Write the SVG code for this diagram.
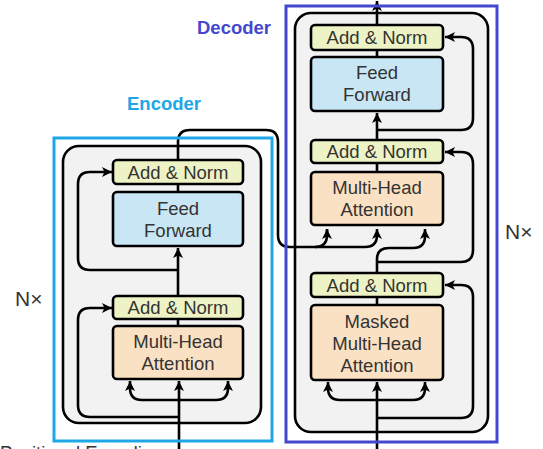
<svg xmlns="http://www.w3.org/2000/svg" width="543" height="449" viewBox="0 0 543 449">
<defs>
<marker id="arr" markerUnits="userSpaceOnUse" markerWidth="11" markerHeight="11" refX="10" refY="5" orient="auto">
<path d="M0,0 L10,5 L0,10 L2.5,5 z" fill="#000"/>
</marker>
<style>
.box{stroke:#000;stroke-width:2.6}
.an{fill:#eef3c6}
.ff{fill:#c9e6f4}
.mh{fill:#fbe1c3}
.stack{fill:#f2f2f2;stroke:#000;stroke-width:2.6}
.t{font-family:"Liberation Sans",Arial,sans-serif;font-size:18.5px;fill:#333;text-anchor:middle}
.lbl{font-family:"Liberation Sans",Arial,sans-serif;font-size:18.5px;font-weight:bold}
.nx{font-family:"Liberation Sans",Arial,sans-serif;font-size:21px;fill:#333}
.c{fill:none;stroke:#000;stroke-width:2.6}
.ca{fill:none;stroke:#000;stroke-width:2.6;marker-end:url(#arr)}
</style>
</defs>
<rect width="543" height="449" fill="#fff"/>

<text class="lbl" x="127" y="110" fill="#1ea7e6">Encoder</text>
<text class="lbl" x="197" y="34" fill="#4548cf">Decoder</text>
<text class="nx" x="15" y="306">N×</text>
<text class="nx" x="505" y="239">N×</text>
<text class="t" x="0" y="459" style="text-anchor:start">Positional Encoding</text>

<g id="encoder-stack">
<rect class="stack" x="63" y="146" width="198" height="277" rx="16"/>
</g>
<g id="decoder-stack">
<rect class="stack" x="295" y="13" width="193" height="419" rx="16"/>
</g>

<g id="enc-addnorm2"><rect class="box an" x="113" y="160" width="130" height="24" rx="4"/><text class="t" x="178" y="179">Add &amp; Norm</text></g>
<g id="enc-ff"><rect class="box ff" x="113" y="192" width="130" height="54" rx="4"/><text class="t" x="178" y="215">Feed</text><text class="t" x="178" y="237">Forward</text></g>
<g id="enc-addnorm1"><rect class="box an" x="113" y="296" width="130" height="23" rx="4"/><text class="t" x="178" y="314">Add &amp; Norm</text></g>
<g id="enc-mha"><rect class="box mh" x="113" y="326" width="130" height="53" rx="4"/><text class="t" x="178" y="348">Multi-Head</text><text class="t" x="178" y="370">Attention</text></g>

<g id="dec-addnorm3"><rect class="box an" x="311" y="25" width="132" height="25" rx="4"/><text class="t" x="377" y="44">Add &amp; Norm</text></g>
<g id="dec-ff"><rect class="box ff" x="311" y="57" width="132" height="54" rx="4"/><text class="t" x="377" y="79">Feed</text><text class="t" x="377" y="101">Forward</text></g>
<g id="dec-addnorm2"><rect class="box an" x="311" y="140" width="132" height="23" rx="4"/><text class="t" x="377" y="158">Add &amp; Norm</text></g>
<g id="dec-mha"><rect class="box mh" x="311" y="172" width="132" height="53" rx="4"/><text class="t" x="377" y="194">Multi-Head</text><text class="t" x="377" y="216">Attention</text></g>
<g id="dec-addnorm1"><rect class="box an" x="311" y="273" width="132" height="24" rx="4"/><text class="t" x="377" y="292">Add &amp; Norm</text></g>
<g id="dec-masked-mha"><rect class="box mh" x="311" y="305" width="132" height="75" rx="4"/><text class="t" x="377" y="328">Masked</text><text class="t" x="377" y="350">Multi-Head</text><text class="t" x="377" y="372">Attention</text></g>

<g id="connectors">
<!-- encoder -->
<path class="ca" d="M179,449 V381"/>
<path class="ca" d="M179,400 H142 Q130,400 130,388 V381"/>
<path class="ca" d="M179,400 H216 Q228,400 228,388 V381"/>
<path class="ca" d="M179,417 H90 Q78,417 78,405 V320 Q78,308 90,308 H112"/>
<path class="c" d="M178,326 V319"/>
<path class="ca" d="M178,296 V248"/>
<path class="ca" d="M178,270 H90 Q78,270 78,258 V184 Q78,172 90,172 H112"/>
<path class="c" d="M178,192 V184"/>
<path class="c" d="M178,160 V142 Q178,130 190,130 H266 Q278,130 278,142 V235 Q278,247 290,247 H315 Q327,247 327,235 V230"/>
<path class="ca" d="M327,236 V229"/>
<path class="ca" d="M315,247 H365 Q377,247 377,235 V229"/>
<!-- decoder -->
<path class="ca" d="M377,449 V382"/>
<path class="ca" d="M377,400 H340 Q328,400 328,388 V382"/>
<path class="ca" d="M377,400 H413 Q425,400 425,388 V382"/>
<path class="ca" d="M377,418 H461 Q473,418 473,406 V297 Q473,285 461,285 H445"/>
<path class="c" d="M377,305 V297"/>
<path class="ca" d="M377,273 V259 Q377,248 389,248 H413 Q425,248 425,236 V229"/>
<path class="ca" d="M377,262 H461 Q473,262 473,250 V164 Q473,152 461,152 H445"/>
<path class="c" d="M377,172 V163"/>
<path class="ca" d="M377,140 V113"/>
<path class="ca" d="M377,130 H461 Q473,130 473,118 V49 Q473,37 461,37 H445"/>
<path class="c" d="M377,57 V50"/>
<path class="ca" d="M377,25 V1"/>
</g>

<g id="frames">
<rect x="54" y="138" width="218" height="303" fill="none" stroke="#1ea7e6" stroke-width="3"/>
<rect x="286" y="6" width="211" height="436" fill="none" stroke="#4548cf" stroke-width="3"/>
</g>
</svg>
